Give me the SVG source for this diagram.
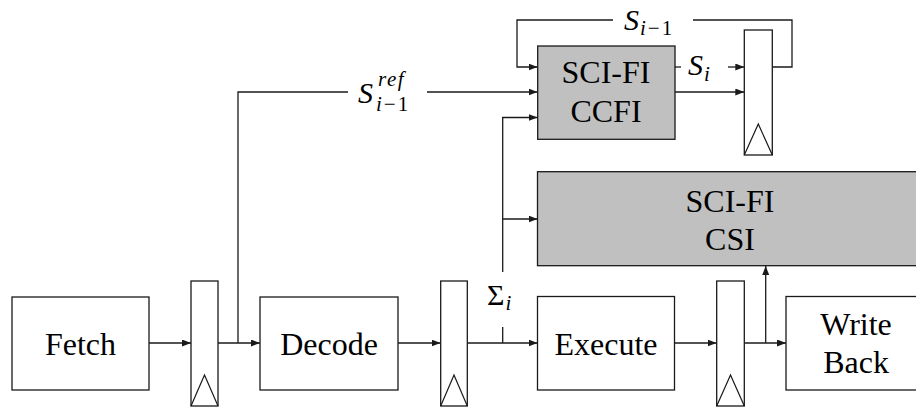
<svg xmlns="http://www.w3.org/2000/svg" width="916" height="410" viewBox="0 0 916 410">
<defs>
<marker id="arr" markerUnits="userSpaceOnUse" markerWidth="10" markerHeight="8" refX="9" refY="3.5" orient="auto">
<path d="M0,0 L9,3.5 L0,7 z" fill="#1a1a1a"/>
</marker>
<style>
.box{fill:#fff;stroke:#1a1a1a;stroke-width:1.3}
.gray{fill:#c0c0c0;stroke:#1a1a1a;stroke-width:1.3}
.reg{fill:#fff;stroke:#1a1a1a;stroke-width:1.3}
.tri{fill:none;stroke:#1a1a1a;stroke-width:1.2}
.ln{fill:none;stroke:#1a1a1a;stroke-width:1.3}
.ar{fill:none;stroke:#1a1a1a;stroke-width:1.3;marker-end:url(#arr)}
text{font-family:"Liberation Serif","Times New Roman",serif;fill:#000}
.t{font-size:32px;text-anchor:middle}
.m{font-style:italic}
</style>
</defs>
<rect width="916" height="410" fill="#fff"/>
<g id="connectors">
<path class="ar" d="M149,343 H191"/>
<path class="ar" d="M218,343 H260"/>
<path class="ln" d="M238,343 V92 H348"/>
<path class="ar" d="M427,92 H537.5"/>
<path class="ar" d="M398,343 H440.5"/>
<path class="ar" d="M467,343 H537.5"/>
<path class="ln" d="M502.7,343 V327"/>
<path class="ar" d="M502.7,272 V117.5 H537.5"/>
<path class="ar" d="M502.7,219 H537.5"/>
<path class="ar" d="M674.5,343 H716.5"/>
<path class="ar" d="M744.5,343 H786"/>
<path class="ar" d="M765.7,343 V266"/>
<path class="ln" d="M772.3,67 H792 V20 H693"/>
<path class="ar" d="M613,20 H517 V67 H537.5"/>
<path class="ln" d="M675,67 H681"/>
<path class="ar" d="M728,67 H744.3"/>
<path class="ar" d="M675,92 H744.3"/>
</g>
<g id="fetch">
<rect class="box" x="12" y="297" width="137" height="93"/>
<text class="t" x="80.5" y="355">Fetch</text>
</g>
<g id="reg1">
<rect class="reg" x="191" y="281" width="27" height="125"/>
<path class="tri" d="M191,406 L204.5,375 L218,406"/>
</g>
<g id="decode">
<rect class="box" x="260" y="297" width="138" height="93"/>
<text class="t" x="329" y="355">Decode</text>
</g>
<g id="reg2">
<rect class="reg" x="440.7" y="281" width="26.6" height="125"/>
<path class="tri" d="M440.7,406 L454,375 L467.3,406"/>
</g>
<g id="execute">
<rect class="box" x="537.5" y="296.5" width="137" height="93.5"/>
<text class="t" x="606" y="355">Execute</text>
</g>
<g id="reg3">
<rect class="reg" x="716.7" y="281" width="27.6" height="125"/>
<path class="tri" d="M716.7,406 L730.5,375 L744.3,406"/>
</g>
<g id="writeback">
<rect class="box" x="786" y="296.5" width="140" height="93.5"/>
<text class="t" x="856" y="335">Write</text>
<text class="t" x="856" y="373">Back</text>
</g>
<g id="csi">
<rect class="gray" x="537.5" y="171.7" width="390" height="94"/>
<text class="t" x="730" y="212">SCI-FI</text>
<text class="t" x="730" y="249.5">CSI</text>
</g>
<g id="ccfi">
<rect class="gray" x="537.7" y="46" width="137.3" height="93.3"/>
<text class="t" x="606" y="83">SCI-FI</text>
<text class="t" x="606" y="122">CCFI</text>
</g>
<g id="reg4">
<rect class="reg" x="744.3" y="30" width="28" height="125"/>
<path class="tri" d="M744.3,155 L758.3,124 L772.3,155"/>
</g>
<g id="labels">
<text x="624" y="30"><tspan class="m" font-size="30">S</tspan><tspan class="m" font-size="21" dx="1" dy="5">i</tspan><tspan font-size="21" dx="2">−</tspan><tspan font-size="21" dx="2">1</tspan></text>
<text x="688" y="75"><tspan class="m" font-size="30">S</tspan><tspan class="m" font-size="21" dx="1" dy="6">i</tspan></text>
<text class="m" x="358" y="103" font-size="30">S</text>
<text class="m" x="378" y="86" font-size="21" letter-spacing="1.5">ref</text>
<text x="376" y="111"><tspan class="m" font-size="21">i</tspan><tspan font-size="21" dx="2">−</tspan><tspan font-size="21" dx="2">1</tspan></text>
<text x="487" y="305"><tspan font-size="30">Σ</tspan><tspan class="m" font-size="21" dx="1" dy="5">i</tspan></text>
</g>
</svg>
